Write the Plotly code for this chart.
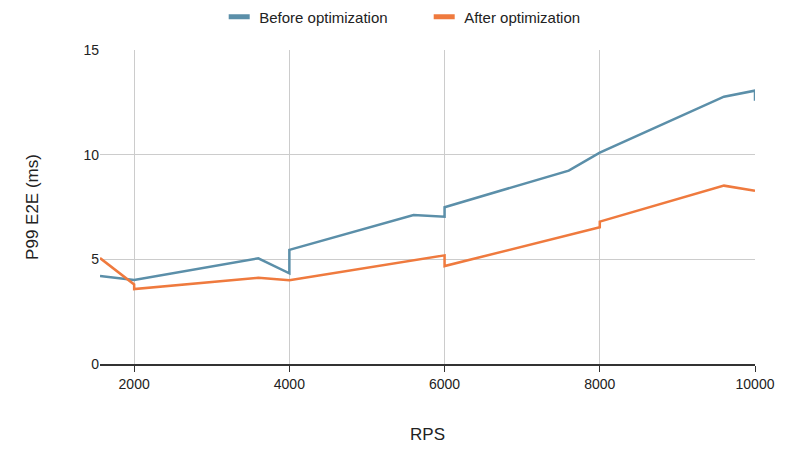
import plotly.graph_objects as go

rps_before = [1560, 2000, 3600, 4000, 4000, 5600, 6000, 6000, 7600, 8000, 9600, 10000, 10000]
p99_before = [4.20, 4.01, 5.05, 4.33, 5.45, 7.12, 7.04, 7.49, 9.24, 10.1, 12.77, 13.06, 12.58]

rps_after = [1560, 2000, 2000, 3600, 4000, 5600, 6000, 6000, 8000, 8000, 9600, 10000]
p99_after = [5.06, 3.80, 3.58, 4.12, 4.00, 4.97, 5.19, 4.68, 6.53, 6.80, 8.52, 8.28]

x_ticks = [2000, 4000, 6000, 8000, 10000]
x_labels = ["2000", "4000", "6000", "8000", "10000"]
y_ticks = [0, 5, 10, 15]

blue = "#5b8fa9"
orange = "#ef7a3e"

fig = go.Figure()
fig.add_trace(go.Scatter(x=rps_before, y=p99_before, mode="lines", name="Before optimization",
                         line=dict(color=blue, width=2.5), showlegend=False))
fig.add_trace(go.Scatter(x=rps_after, y=p99_after, mode="lines", name="After optimization",
                         line=dict(color=orange, width=2.5), showlegend=False))
# legend entries (short thick bar symbols)
for nm, col in [("Before optimization", blue), ("After optimization", orange)]:
    fig.add_trace(go.Scatter(x=[None], y=[None], mode="markers", name=nm,
                             marker=dict(symbol="line-ew-open", size=15, color=col,
                                         line=dict(color=col, width=5))))

fig.update_layout(
    width=800, height=451,
    margin=dict(l=92, r=53, t=42, b=95, autoexpand=False),
    paper_bgcolor="white", plot_bgcolor="white",
    font=dict(family="Liberation Sans, Arial", size=14, color="#222222"),
    legend=dict(orientation="h", x=0.264, xanchor="left", xref="container",
                y=0.98, yanchor="middle", yref="container",
                font=dict(size=15), itemwidth=30, tracegroupgap=0,
                entrywidth=160, entrywidthmode="pixels"),
    xaxis=dict(range=[1560, 10000], tickvals=x_ticks, ticktext=x_labels,
               showgrid=True, gridcolor="#cccccc",
               showline=True, linecolor="#333333", linewidth=1.5, ticks="outside",
               ticklen=6, tickcolor="#333333", zeroline=False,
               title=dict(text="RPS", standoff=38)),
    yaxis=dict(range=[0, 15], tickvals=y_ticks, showgrid=True, gridcolor="#cccccc",
               zeroline=False, showline=False, ticks="", ticklen=0,
               title=dict(text="P99 E2E (ms)", standoff=40)),
)
fig.write_html("out.html")
